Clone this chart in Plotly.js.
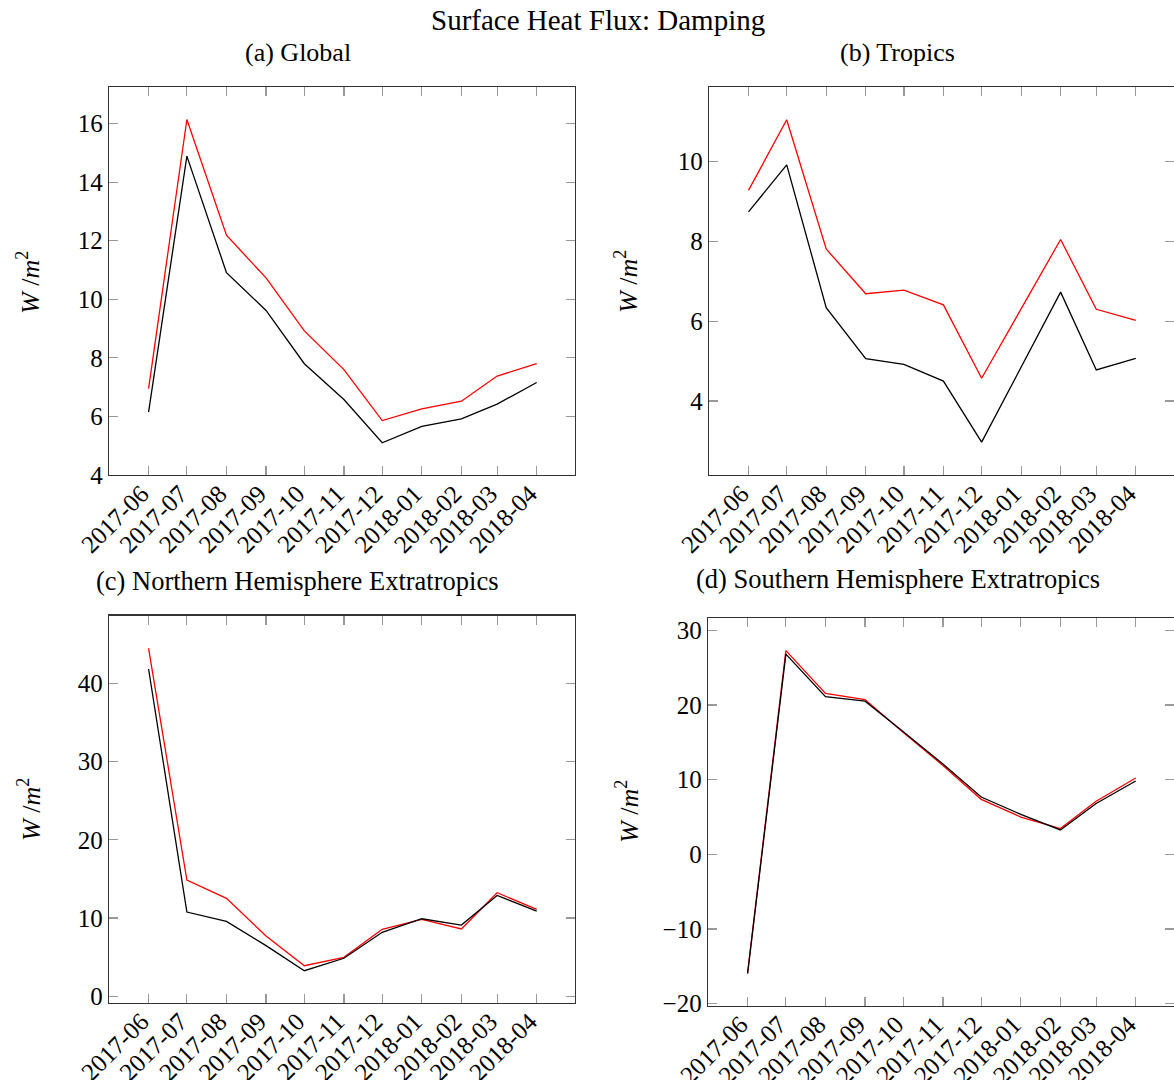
<!DOCTYPE html>
<html>
<head>
<meta charset="utf-8">
<script src="https://cdn.plot.ly/plotly-3.0.1.min.js"></script>
<style>html,body{margin:0;padding:0;background:#fff;overflow:hidden}</style>
</head>
<body>
<div id="chart" style="width:1174px;height:1080px"></div>
<script>
// ---- data ----
const months = ["2017-06","2017-07","2017-08","2017-09","2017-10","2017-11","2017-12","2018-01","2018-02","2018-03","2018-04"];
const tickLabels = ["2017-06","2017-07","2017-08","2017-09","2017-10","2017-11","2017-12","2018-01","2018-02","2018-03","2018-04"];

const globalRed   = [6.95, 16.14, 12.19, 10.73, 8.92, 7.60, 5.86, 6.26, 6.52, 7.38, 7.80];
const globalBlack = [6.15, 14.89, 10.91, 9.62, 7.80, 6.58, 5.10, 5.66, 5.92, 6.42, 7.16];

const tropicsRed   = [9.28, 11.05, 7.81, 6.69, 6.78, 6.41, 4.57, 6.30, 8.05, 6.30, 6.02];
const tropicsBlack = [8.74, 9.92, 6.34, 5.06, 4.92, 4.50, 2.97, 4.85, 6.73, 4.78, 5.07];

const nhRed   = [44.47, 14.86, 12.52, 7.70, 3.91, 4.98, 8.56, 9.83, 8.60, 13.23, 11.11];
const nhBlack = [41.83, 10.77, 9.58, 6.47, 3.27, 4.86, 8.18, 9.91, 9.10, 12.89, 10.89];

const shRed   = [-15.9, 27.27, 21.53, 20.72, 16.3, 11.9, 7.36, 4.99, 3.44, 7.10, 10.22];
const shBlack = [-15.98, 26.8, 21.1, 20.5, 16.4, 12.1, 7.67, 5.35, 3.26, 6.80, 9.82];

const mainTitle = "Surface Heat Flux: Damping";
const panelTitles = ["(a) Global", "(b) Tropics", "(c) Northern Hemisphere Extratropics", "(d) Southern Hemisphere Extratropics"];
const yTitle = "<i>W</i> /<i>m</i><sup>2</sup>";

// ---- layout helpers ----
const W = 1174, H = 1080;
const FONT = "'Liberation Serif', 'Times New Roman', serif";
const px = v => v / W;
const py = v => 1 - v / H;

function xAxis(domain, anchor) {
  return {
    type: "date", domain: domain, anchor: anchor,
    range: ["2017-05-01", "2018-05-01"],
    tickmode: "array", tickvals: months, ticktext: tickLabels, tickangle: -45,
    ticks: "inside", ticklen: 9, tickwidth: 1.2, tickcolor: "#999",
    ticklabelshift: -7, ticklabelstandoff: -7,
    showline: true, linecolor: "#333", linewidth: 1.3, mirror: "allticks",
    showgrid: false, zeroline: false,
    tickfont: {family: FONT, size: 25, color: "#000"}
  };
}
function yAxis(domain, anchor, range, dtick) {
  return {
    domain: domain, anchor: anchor, range: range, dtick: dtick,
    ticks: "inside", ticklen: 9, tickwidth: 1.2, tickcolor: "#999",
    showline: true, linecolor: "#333", linewidth: 1.3, mirror: "allticks",
    showgrid: false, zeroline: false,
    tickfont: {family: FONT, size: 25, color: "#000"}
  };
}

const line = (x, y, xa, ya, color) => ({
  x: x, y: y, xaxis: xa, yaxis: ya, type: "scatter", mode: "lines",
  line: {color: color, width: 1.3}, hoverinfo: "skip"
});

const traces = [
  line(months, globalRed, "x", "y", "#ff0000"),
  line(months, globalBlack, "x", "y", "#000000"),
  line(months, tropicsRed, "x2", "y2", "#ff0000"),
  line(months, tropicsBlack, "x2", "y2", "#000000"),
  line(months, nhRed, "x3", "y3", "#ff0000"),
  line(months, nhBlack, "x3", "y3", "#000000"),
  line(months, shRed, "x4", "y4", "#ff0000"),
  line(months, shBlack, "x4", "y4", "#000000")
];

function ann(text, x, y, size, angle) {
  return {text: text, xref: "paper", yref: "paper", x: px(x), y: py(y),
          xanchor: "center", yanchor: "middle", showarrow: false,
          textangle: angle || 0, font: {family: FONT, size: size, color: "#000"}};
}

const layout = {
  width: W, height: H,
  margin: {l: 0, r: 0, t: 0, b: 0},
  paper_bgcolor: "#fff", plot_bgcolor: "#fff",
  showlegend: false,
  font: {family: FONT, color: "#000", size: 24},
  xaxis:  xAxis([px(109), px(575)], "y"),
  yaxis:  yAxis([py(475), py(87.3)], "x", [4, 17.24], 2),
  xaxis2: xAxis([px(709), 1], "y2"),
  yaxis2: yAxis([py(475), py(87.3)], "x2", [2.145, 11.865], 2),
  xaxis3: xAxis([px(109), px(575)], "y3"),
  yaxis3: yAxis([py(1002.7), py(615.7)], "x3", [-0.82, 48.64], 10),
  xaxis4: xAxis([px(708), 1], "y4"),
  yaxis4: yAxis([py(1005.7), py(618.3)], "x4", [-20.27, 31.6], 10),
  annotations: [
    ann(mainTitle, 598, 20, 29),
    ann(panelTitles[0], 298, 53, 26),
    ann(panelTitles[1], 897, 53, 26),
    ann(panelTitles[2], 298, 581, 26.5),
    ann(panelTitles[3], 898, 579, 26.5),
    ann(yTitle, 29, 282, 26, -90),
    ann(yTitle, 627, 282, 26, -90),
    ann(yTitle, 29, 809, 26, -90),
    ann(yTitle, 627, 812, 26, -90)
  ]
};

Plotly.newPlot("chart", traces, layout, {staticPlot: true, displayModeBar: false});
</script>
</body>
</html>
